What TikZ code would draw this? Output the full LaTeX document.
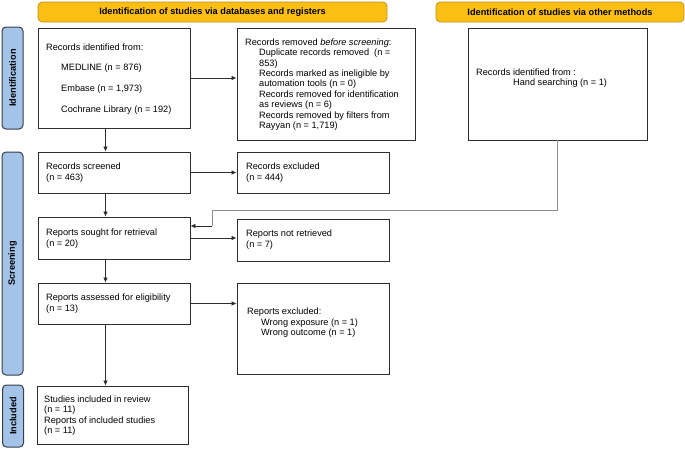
\documentclass[tikz,border=0pt]{standalone}
\usepackage{fontspec}
\setmainfont{Liberation Sans}
\usetikzlibrary{arrows.meta,calc}
\definecolor{hdrfill}{RGB}{251,190,18}
\definecolor{hdrdraw}{RGB}{190,145,30}
\definecolor{sidefill}{RGB}{163,195,232}
\definecolor{sidedraw}{RGB}{55,60,75}
\definecolor{boxdraw}{RGB}{45,45,45}
\definecolor{linkgray}{RGB}{140,140,140}
\tikzset{
  hdr/.style={draw=hdrdraw,fill=hdrfill,rounded corners=4pt,line width=0.7pt,font=\fontsize{9.2}{10.5}\selectfont\bfseries,inner sep=0pt},
  side/.style={draw=sidedraw,fill=sidefill,rounded corners=4pt,line width=1pt,font=\fontsize{9.2}{10.5}\selectfont\bfseries,inner sep=0pt},
  flowbox/.style={draw=boxdraw,line width=0.9pt,inner sep=0pt},
  txt/.style={anchor=west,align=left,inner sep=0pt,font=\fontsize{9.2}{10.4}\selectfont,text=black},
  arr/.style={draw=boxdraw,line width=0.7pt,-{Latex[length=5pt,width=4.5pt]}},
}
\newcommand{\ind}[1]{\hspace*{#1}}
\begin{document}
\begin{tikzpicture}[x=1pt,y=-1pt]
\useasboundingbox (0,0) rectangle (685,448);
% headers
\node[hdr,minimum width=349pt,minimum height=20pt] (h1) at (212.5,12) {Identification of studies via databases and registers};
\node[hdr,minimum width=248pt,minimum height=20pt] (h2) at (560,12) {Identification of studies via other methods};
% side labels
\node[side,minimum width=21pt,minimum height=102pt] (s1) at (12.5,78) {};
\node[rotate=90,font=\fontsize{9.2}{10.5}\selectfont\bfseries] (s1t) at (s1.center) {Identification};
\node[side,minimum width=21pt,minimum height=223pt] (s2) at (12.5,263.5) {};
\node[rotate=90,font=\fontsize{9.2}{10.5}\selectfont\bfseries] (s2t) at (s2.center) {Screening};
\node[side,minimum width=21pt,minimum height=62pt] (s3) at (13,416) {};
\node[rotate=90,font=\fontsize{9.2}{10.5}\selectfont\bfseries] (s3t) at (s3.center) {Included};
% boxes
\node[flowbox,minimum width=152pt,minimum height=100pt] (A) at (114,78) {};
\node[flowbox,minimum width=178pt,minimum height=112pt] (B) at (326,84) {};
\node[flowbox,minimum width=179pt,minimum height=112pt] (C) at (557.5,84) {};
\node[flowbox,minimum width=152pt,minimum height=41pt] (D) at (114,172.5) {};
\node[flowbox,minimum width=152pt,minimum height=41pt] (E) at (313,172.5) {};
\node[flowbox,minimum width=152pt,minimum height=42pt] (F) at (114,238) {};
\node[flowbox,minimum width=152pt,minimum height=42pt] (G) at (313,240) {};
\node[flowbox,minimum width=152pt,minimum height=41pt] (H) at (114,303.5) {};
\node[flowbox,minimum width=152pt,minimum height=91pt] (I) at (313,328.5) {};
\node[flowbox,minimum width=151pt,minimum height=58pt] (J) at (112.5,415) {};
% texts
\node[txt] (tA) at (46,79) {Records identified from:\\[10.5pt]
\ind{15pt}MEDLINE (n = 876)\\[10.5pt]
\ind{15pt}Embase (n = 1,973)\\[10.5pt]
\ind{15pt}Cochrane Library (n = 192)};
\node[txt] (tB) at (245,84.5) {Records removed \emph{before screening}:\\
\ind{14pt}Duplicate records removed\ \ (n =\\
\ind{14pt}853)\\
\ind{14pt}Records marked as ineligible by\\
\ind{14pt}automation tools (n = 0)\\
\ind{14pt}Records removed for identification\\
\ind{14pt}as reviews (n = 6)\\
\ind{14pt}Records removed by filters from\\
\ind{14pt}Rayyan (n = 1,719)};
\node[txt] (tC) at (476,78) {Records identified from :\\
\ind{37pt}Hand searching (n = 1)};
\node[txt] (tD) at (46,172.5) {Records screened\\(n = 463)};
\node[txt] (tE) at (246,172.5) {Records excluded\\(n = 444)};
\node[txt] (tF) at (46,238.5) {Reports sought for retrieval\\(n = 20)};
\node[txt] (tG) at (246,239.5) {Reports not retrieved\\(n = 7)};
\node[txt] (tH) at (46,303.5) {Reports assessed for eligibility\\(n = 13)};
\node[txt] (tI) at (247,323) {Reports excluded:\\
\ind{14pt}Wrong exposure (n = 1)\\
\ind{14pt}Wrong outcome (n = 1)};
\node[txt] (tJ) at (44,415.5) {Studies included in review\\(n = 11)\\Reports of included studies\\(n = 11)};
% connectors
\coordinate (vx) at (105.5,0);
\draw[arr] (A.east) -- (A.east -| B.west);
\draw[arr] (D.east) -- (D.east -| E.west);
\draw[arr] (F.east) -- (F.east -| G.west);
\draw[arr] (H.east) -- (H.east -| I.west);
\draw[arr] (A.south -| vx) -- (D.north -| vx);
\draw[arr] (D.south -| vx) -- (F.north -| vx);
\draw[arr] (F.south -| vx) -- (H.north -| vx);
\draw[arr] (H.south -| vx) -- (J.north -| vx);
\coordinate (k1) at (212,210);
\coordinate (k2) at (212,226);
\draw[draw=linkgray,line width=0.8pt] (C.south) |- (k1) -- (k2);
\draw[arr] (k2) -- (k2 -| F.east);
\end{tikzpicture}
\end{document}
